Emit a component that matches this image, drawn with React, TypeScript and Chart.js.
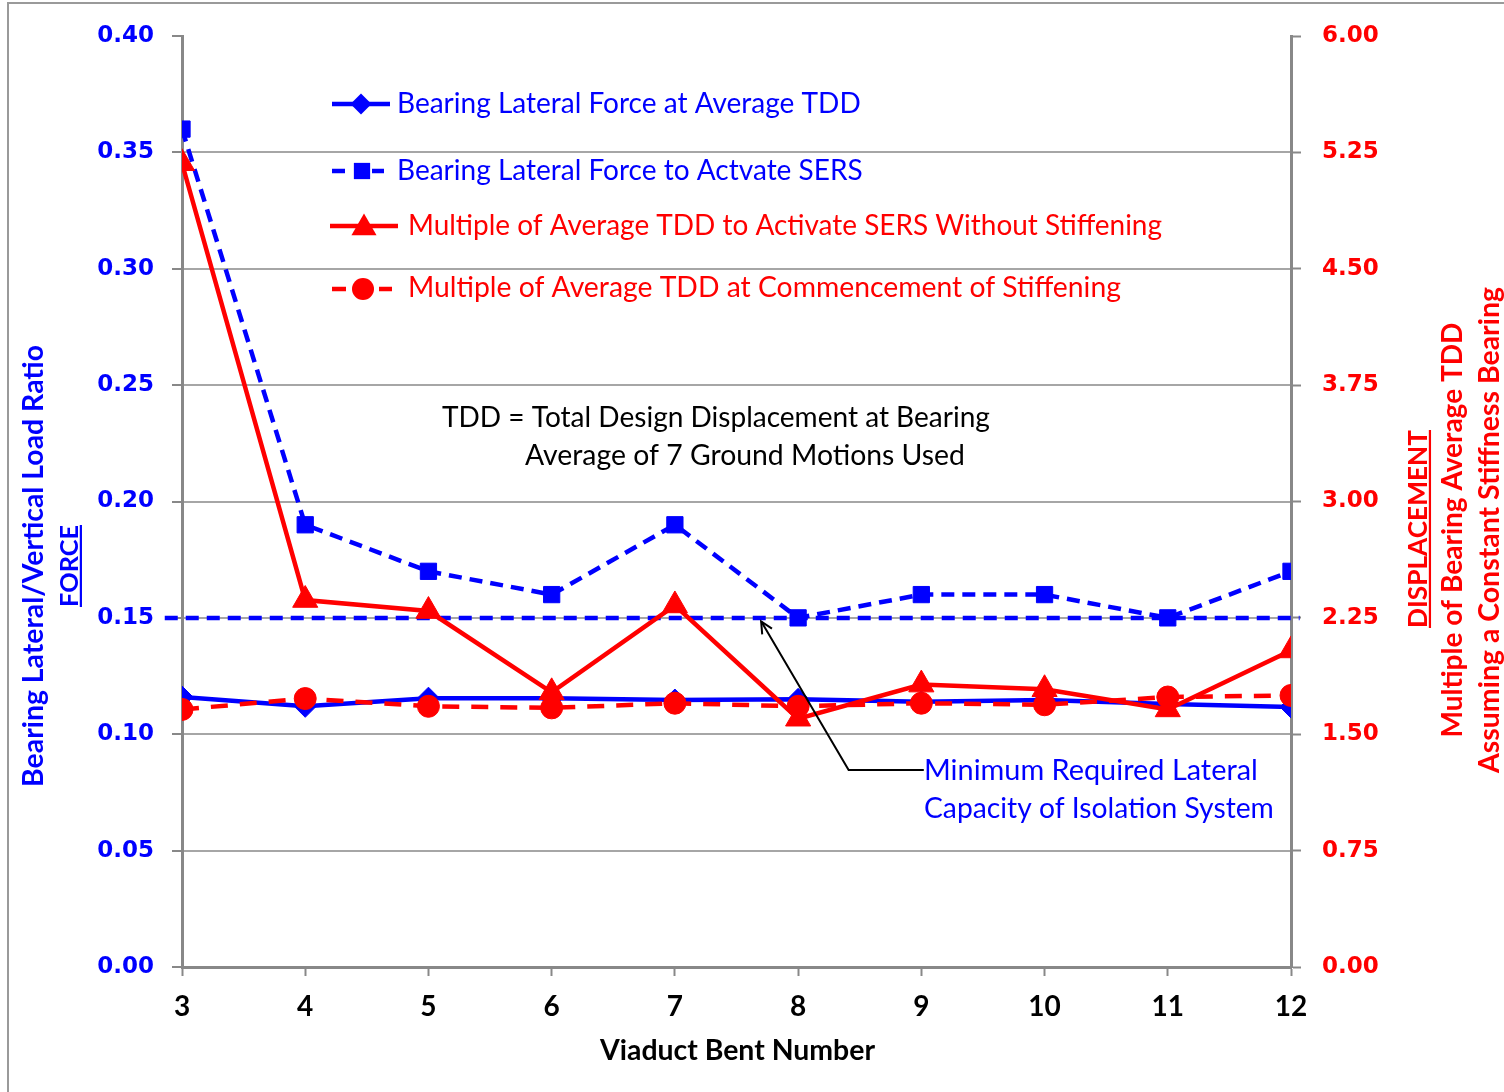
import React, { useEffect, useRef } from 'react';
import { Chart, registerables } from 'chart.js';

Chart.register(...registerables);

// ---------------- data ----------------
const bents = [3, 4, 5, 6, 7, 8, 9, 10, 11, 12];
const forceAtAvgTDD = [0.116, 0.112, 0.1155, 0.1155, 0.1147, 0.115, 0.114, 0.1147, 0.113, 0.1117];
const forceToActivateSERS = [0.36, 0.19, 0.17, 0.16, 0.19, 0.15, 0.16, 0.16, 0.15, 0.17];
const tddMultipleNoStiffening = [5.18, 2.365, 2.294, 1.77, 2.33, 1.6, 1.82, 1.79, 1.66, 2.04];
const tddMultipleStiffening = [1.66, 1.73, 1.68, 1.67, 1.7, 1.68, 1.7, 1.69, 1.74, 1.75];
const minRequiredX = [2.86, 12.07];
const minRequiredY = [0.15, 0.15];

const seriesLabels = [
  'Bearing Lateral Force at Average TDD',
  'Bearing Lateral Force to Actvate SERS',
  'Multiple of Average TDD to Activate SERS Without Stiffening',
  'Multiple of Average TDD at Commencement of Stiffening',
];
const leftAxisTitle = ['Bearing Lateral/Vertical Load Ratio', 'FORCE'];
const rightAxisTitle = ['DISPLACEMENT', 'Multiple of Bearing Average TDD', 'Assuming a Constant Stiffness Bearing'];
const xAxisTitle = 'Viaduct Bent Number';
const noteLines = ['TDD = Total Design Displacement at Bearing', 'Average of 7 Ground Motions Used'];
const minNoteLines = ['Minimum Required Lateral', 'Capacity of Isolation System'];

const leftMin = 0, leftMax = 0.4, leftStep = 0.05;
const rightMin = 0, rightMax = 6, rightStep = 0.75;

// ---------------- styles ----------------
const BLUE = '#0000FF';
const RED = '#FF0000';
const GRID = '#A6A6A6';
const AXIS = '#888888';
const SANS = 'Lato, "Open Sans", sans-serif';
const TICKFONT = '"DejaVu Sans", Verdana, sans-serif';

const pts = (vals: number[]) => bents.map((b, i) => ({ x: b, y: vals[i] }));

function fitFont(ctx: CanvasRenderingContext2D, text: string, width: number, weight: string) {
  ctx.font = `${weight} 100px ${SANS}`;
  const w = ctx.measureText(text).width;
  const size = (100 * width) / w;
  ctx.font = `${weight} ${size.toFixed(2)}px ${SANS}`;
  return size;
}

function drawText(ctx: CanvasRenderingContext2D, text: string, x: number, base: number, width: number, color: string, weight = 'normal') {
  ctx.save();
  fitFont(ctx, text, width, weight);
  ctx.fillStyle = color;
  ctx.textAlign = 'left';
  ctx.textBaseline = 'alphabetic';
  ctx.fillText(text, x, base);
  ctx.restore();
}

function drawRotated(ctx: CanvasRenderingContext2D, text: string, xBase: number, yCenter: number, length: number, color: string, underline = false) {
  ctx.save();
  ctx.translate(xBase, yCenter);
  ctx.rotate(-Math.PI / 2);
  const size = fitFont(ctx, text, length, 'bold');
  ctx.fillStyle = color;
  ctx.textAlign = 'center';
  ctx.textBaseline = 'alphabetic';
  ctx.fillText(text, 0, 0);
  if (underline) {
    ctx.fillRect(-length / 2, size * 0.07, length, 2.2);
  }
  ctx.restore();
}

function marker(ctx: CanvasRenderingContext2D, style: string, x: number, y: number, r: number, color: string) {
  ctx.save();
  ctx.fillStyle = color;
  ctx.beginPath();
  if (style === 'diamond') {
    ctx.moveTo(x - r, y);
    ctx.lineTo(x, y - r);
    ctx.lineTo(x + r, y);
    ctx.lineTo(x, y + r);
  } else if (style === 'square') {
    const s = r * Math.SQRT1_2;
    ctx.rect(x - s, y - s, 2 * s, 2 * s);
  } else if (style === 'triangle') {
    ctx.moveTo(x, y - r);
    ctx.lineTo(x + r * 0.866, y + r * 0.5);
    ctx.lineTo(x - r * 0.866, y + r * 0.5);
  } else {
    ctx.arc(x, y, r, 0, Math.PI * 2);
  }
  ctx.closePath();
  ctx.fill();
  ctx.restore();
}

function seg(ctx: CanvasRenderingContext2D, x1: number, y1: number, x2: number, y2: number, color: string, w: number) {
  ctx.save();
  ctx.strokeStyle = color;
  ctx.lineWidth = w;
  ctx.beginPath();
  ctx.moveTo(x1, y1);
  ctx.lineTo(x2, y2);
  ctx.stroke();
  ctx.restore();
}

const overlayPlugin = {
  id: 'overlay',
  afterDraw(chart: any) {
    const ctx: CanvasRenderingContext2D = chart.ctx;
    const xs = chart.scales.x;
    const ys = chart.scales.y;

    // legend
    seg(ctx, 332, 104, 390, 104, BLUE, 4.5);
    marker(ctx, 'diamond', 361, 104, 10.5, BLUE);
    drawText(ctx, seriesLabels[0], 397, 113, 464, BLUE);

    seg(ctx, 332, 171, 345, 171, BLUE, 4.5);
    seg(ctx, 372, 171, 384, 171, BLUE, 4.5);
    marker(ctx, 'square', 362, 171, 11.5, BLUE);
    drawText(ctx, seriesLabels[1], 397, 180, 466, BLUE);

    seg(ctx, 330, 226, 398, 226, RED, 4.5);
    marker(ctx, 'triangle', 364, 228, 14.5, RED);
    drawText(ctx, seriesLabels[2], 408, 235, 754, RED);

    seg(ctx, 332, 289, 346, 289, RED, 4.5);
    seg(ctx, 379, 289, 392, 289, RED, 4.5);
    marker(ctx, 'circle', 363, 289, 11, RED);
    drawText(ctx, seriesLabels[3], 408, 297, 713, RED);

    // notes
    drawText(ctx, noteLines[0], 442, 427, 548, '#000000');
    drawText(ctx, noteLines[1], 525, 465, 440, '#000000');
    drawText(ctx, minNoteLines[0], 924, 780, 334, BLUE);
    drawText(ctx, minNoteLines[1], 924, 818, 350, BLUE);

    // leader + arrow
    const tipX = xs.getPixelForValue(7.7);
    const tipY = ys.getPixelForValue(0.1485);
    const cX = xs.getPixelForValue(8.41);
    const cY = ys.getPixelForValue(0.0846);
    const eX = xs.getPixelForValue(9.02);
    ctx.save();
    ctx.strokeStyle = '#000000';
    ctx.lineWidth = 2;
    ctx.beginPath();
    ctx.moveTo(eX, cY);
    ctx.lineTo(cX, cY);
    ctx.lineTo(tipX, tipY);
    ctx.stroke();
    const ang = Math.atan2(cY - tipY, cX - tipX);
    const hl = 13, spread = 0.45;
    ctx.beginPath();
    ctx.moveTo(tipX + hl * Math.cos(ang + spread), tipY + hl * Math.sin(ang + spread));
    ctx.lineTo(tipX, tipY);
    ctx.lineTo(tipX + hl * Math.cos(ang - spread), tipY + hl * Math.sin(ang - spread));
    ctx.stroke();
    ctx.restore();

    // axis titles
    drawRotated(ctx, leftAxisTitle[0], 43, 566, 442, BLUE);
    drawRotated(ctx, leftAxisTitle[1], 78, 566, 82, BLUE, true);
    drawRotated(ctx, rightAxisTitle[0], 1427, 529, 198, RED, true);
    drawRotated(ctx, rightAxisTitle[1], 1462, 530, 415, RED);
    drawRotated(ctx, rightAxisTitle[2], 1499, 530, 486, RED);

    ctx.save();
    fitFont(ctx, xAxisTitle, 275, 'bold');
    ctx.fillStyle = '#000000';
    ctx.textAlign = 'center';
    ctx.textBaseline = 'alphabetic';
    ctx.fillText(xAxisTitle, 737.5, 1060);
    ctx.restore();
  },
};

export default function App() {
  const ref = useRef<HTMLCanvasElement>(null);

  useEffect(() => {
    const canvas = ref.current!;
    const chart = new Chart(canvas, {
      type: 'line',
      data: {
        datasets: [
          {
            label: seriesLabels[0],
            data: pts(forceAtAvgTDD),
            yAxisID: 'y',
            borderColor: BLUE,
            backgroundColor: BLUE,
            borderWidth: 4.5,
            pointStyle: 'rectRot',
            pointRadius: 11,
            pointBorderWidth: 1,
            pointBackgroundColor: BLUE,
            pointBorderColor: BLUE,
            order: 2,
          },
          {
            label: seriesLabels[1],
            data: pts(forceToActivateSERS),
            yAxisID: 'y',
            borderColor: BLUE,
            backgroundColor: BLUE,
            borderWidth: 4.5,
            borderDash: [13, 8],
            pointStyle: 'rect',
            pointRadius: 11.5,
            pointBorderWidth: 1,
            pointBackgroundColor: BLUE,
            pointBorderColor: BLUE,
            order: 3,
          },
          {
            label: 'Minimum Required Lateral Capacity',
            data: minRequiredX.map((x, i) => ({ x, y: minRequiredY[i] })),
            yAxisID: 'y',
            borderColor: BLUE,
            borderWidth: 4.5,
            borderDash: [13, 8],
            pointRadius: 0,
            clip: false as any,
            order: 4,
          },
          {
            label: seriesLabels[2],
            data: pts(tddMultipleNoStiffening),
            yAxisID: 'y1',
            borderColor: RED,
            backgroundColor: RED,
            borderWidth: 4.5,
            pointStyle: 'triangle',
            pointRadius: 14.5,
            pointBorderWidth: 1,
            pointBackgroundColor: RED,
            pointBorderColor: RED,
            order: 1,
          },
          {
            label: seriesLabels[3],
            data: pts(tddMultipleStiffening),
            yAxisID: 'y1',
            borderColor: RED,
            backgroundColor: RED,
            borderWidth: 4.5,
            borderDash: [17, 12],
            pointStyle: 'circle',
            pointRadius: 11,
            pointBorderWidth: 1,
            pointBackgroundColor: RED,
            pointBorderColor: RED,
            order: 0,
          },
        ],
      },
      options: {
        animation: false,
        responsive: false,
        devicePixelRatio: 1,
        layout: { padding: { top: 36, left: 0, right: 0, bottom: 0 } },
        plugins: {
          legend: { display: false },
          tooltip: { enabled: false },
        },
        elements: { line: { tension: 0 } },
        scales: {
          x: {
            type: 'linear',
            position: 'bottom',
            min: 3,
            max: 12,
            ticks: {
              stepSize: 1,
              color: '#000000',
              font: { family: SANS, size: 28, weight: 'bold' },
              padding: 14,
            },
            grid: { drawOnChartArea: false, tickLength: 9, tickColor: AXIS, tickWidth: 2 },
            border: { color: AXIS, width: 3 },
            afterFit: (s: any) => { s.height = 125; },
          },
          y: {
            type: 'linear',
            position: 'left',
            min: leftMin,
            max: leftMax,
            ticks: {
              stepSize: leftStep,
              color: BLUE,
              font: { family: TICKFONT, size: 23, weight: 'bold' },
              padding: 18,
              callback: (v: any) => Number(v).toFixed(2),
            },
            grid: {
              color: (c: any) => (c.tick && c.tick.value > leftMax - 0.001 ? 'rgba(0,0,0,0)' : GRID),
              lineWidth: 2,
              tickLength: 10,
              tickColor: AXIS,
              tickWidth: 2,
            },
            border: { color: AXIS, width: 3 },
            afterFit: (s: any) => { s.width = 182; },
          },
          y1: {
            type: 'linear',
            position: 'right',
            min: rightMin,
            max: rightMax,
            ticks: {
              stepSize: rightStep,
              color: RED,
              font: { family: TICKFONT, size: 23, weight: 'bold' },
              padding: 21,
              callback: (v: any) => Number(v).toFixed(2),
            },
            grid: { drawOnChartArea: false, tickLength: 10, tickColor: AXIS, tickWidth: 2 },
            border: { color: AXIS, width: 3 },
            afterFit: (s: any) => { s.width = 213; },
          },
        },
      } as any,
      plugins: [overlayPlugin],
    });
    return () => chart.destroy();
  }, []);

  return (
    <div style={{ position: 'fixed', left: 0, top: 0, width: 1504, height: 1092, background: '#ffffff', overflow: 'hidden' }}>
      <div
        style={{
          position: 'absolute',
          left: 7,
          top: 2,
          width: 1600,
          height: 1200,
          borderLeft: '2px solid #9a9a9a',
          borderTop: '2px solid #9a9a9a',
        }}
      />
      <canvas ref={ref} width={1504} height={1092} style={{ position: 'absolute', left: 0, top: 0, width: 1504, height: 1092 }} />
    </div>
  );
}
